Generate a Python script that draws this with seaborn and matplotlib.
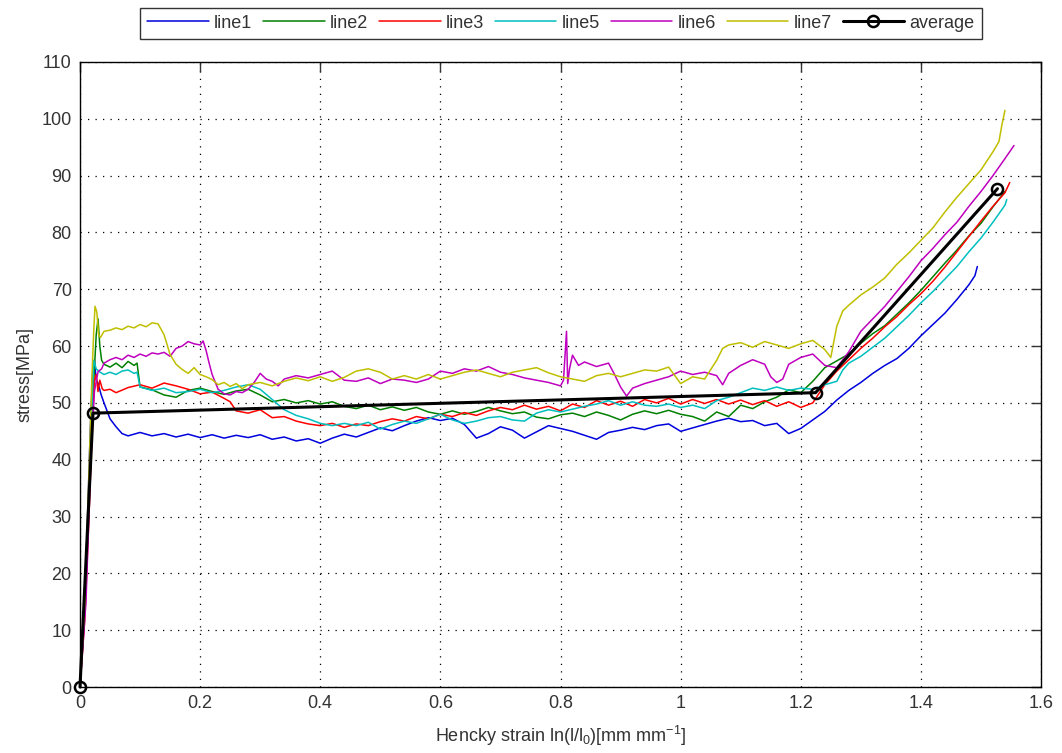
import numpy as np
import pandas as pd
import matplotlib
matplotlib.use("Agg")
import matplotlib.pyplot as plt
import seaborn as sns

# ---------------- data ----------------
line1_x = [0, 0.006, 0.012, 0.017, 0.021, 0.024, 0.027, 0.03, 0.035, 0.04, 0.05, 0.06, 0.07, 0.08,
           0.10, 0.12, 0.14, 0.16, 0.18, 0.20, 0.22, 0.24, 0.26, 0.28, 0.30, 0.32, 0.34, 0.36, 0.38, 0.40,
           0.42, 0.44, 0.46, 0.48, 0.50, 0.52, 0.54, 0.56, 0.58, 0.60, 0.62, 0.64, 0.66, 0.68, 0.70,
           0.72, 0.74, 0.76, 0.78, 0.80, 0.82, 0.84, 0.86, 0.88, 0.90, 0.92, 0.94, 0.96, 0.98, 1.00,
           1.02, 1.04, 1.06, 1.08, 1.10, 1.12, 1.14, 1.16, 1.18, 1.20, 1.22, 1.24, 1.26, 1.28, 1.30,
           1.32, 1.34, 1.36, 1.38, 1.40, 1.42, 1.44, 1.46, 1.48, 1.49, 1.494]
line1_y = [0, 10, 28, 45, 55, 57.5, 54, 53.5, 51.5, 50.0, 47.2, 45.8, 44.6, 44.2,
           44.8, 44.2, 44.6, 44.0, 44.5, 43.9, 44.4, 43.8, 44.3, 43.9, 44.4, 43.6, 44.0, 43.3, 43.7, 42.9,
           43.8, 44.5, 44.0, 44.8, 45.6, 45.1, 46.0, 46.8, 47.4, 46.9, 47.3, 46.2, 43.8, 44.6, 45.8,
           45.2, 43.8, 44.9, 46.0, 45.5, 45.0, 44.3, 43.6, 44.8, 45.2, 45.7, 45.3, 46.0, 46.3, 45.0,
           45.6, 46.2, 46.8, 47.3, 46.7, 46.9, 46.0, 46.4, 44.6, 45.5, 47.0, 48.5, 50.5, 52.2, 53.6,
           55.2, 56.6, 57.8, 59.6, 61.8, 63.8, 65.8, 68.2, 70.8, 72.4, 74.0]

line2_x = [0, 0.008, 0.015, 0.022, 0.027, 0.030, 0.033, 0.036, 0.04, 0.05, 0.06, 0.07, 0.08, 0.09, 0.095,
           0.10, 0.12, 0.14, 0.16, 0.18, 0.20, 0.22, 0.24, 0.26, 0.28, 0.30, 0.32, 0.34, 0.36, 0.38, 0.40,
           0.42, 0.44, 0.46, 0.48, 0.50, 0.52, 0.54, 0.56, 0.58, 0.60, 0.62, 0.64, 0.66, 0.68, 0.70,
           0.72, 0.74, 0.76, 0.78, 0.80, 0.82, 0.84, 0.86, 0.88, 0.90, 0.92, 0.94, 0.96, 0.98, 1.00,
           1.02, 1.04, 1.06, 1.08, 1.10, 1.12, 1.14, 1.16, 1.18, 1.20, 1.22, 1.24, 1.26, 1.28, 1.30,
           1.32, 1.34, 1.36, 1.38, 1.40, 1.42, 1.44, 1.46, 1.48, 1.50, 1.52, 1.54]
line2_y = [0, 15, 35, 52, 62, 64.8, 60, 57.5, 56.8, 56.3, 57.0, 56.2, 57.3, 56.6, 57.0,
           52.8, 52.3, 51.4, 51.0, 52.2, 52.6, 52.0, 51.5, 52.1, 52.4, 51.4, 50.2, 50.6, 50.0, 50.4, 49.8,
           50.2, 49.4, 49.0, 49.6, 48.8, 49.3, 48.7, 49.2, 48.4, 48.0, 48.6, 48.0, 48.5, 49.2, 48.6,
           48.1, 48.4, 47.5, 47.2, 47.9, 48.2, 47.6, 48.4, 47.8, 47.0, 48.0, 48.6, 48.1, 48.7, 48.0,
           47.6, 46.8, 48.4, 47.6, 49.6, 49.0, 50.2, 51.0, 52.3, 51.8, 53.8, 56.2, 57.4, 58.6, 60.5,
           62.2, 63.6, 65.6, 67.6, 69.8, 72.2, 74.6, 76.9, 79.4, 81.6, 84.5, 87.2]

line3_x = [0, 0.008, 0.015, 0.02, 0.024, 0.027, 0.030, 0.033, 0.037, 0.04, 0.05, 0.06, 0.08,
           0.10, 0.12, 0.14, 0.16, 0.18, 0.20, 0.22, 0.24, 0.25, 0.26, 0.28, 0.30, 0.32, 0.34, 0.36, 0.38, 0.40,
           0.42, 0.44, 0.46, 0.48, 0.50, 0.52, 0.54, 0.56, 0.58, 0.60, 0.62, 0.64, 0.66, 0.68, 0.70,
           0.72, 0.74, 0.76, 0.78, 0.80, 0.82, 0.84, 0.86, 0.88, 0.90, 0.92, 0.94, 0.96, 0.98, 1.00,
           1.02, 1.04, 1.06, 1.08, 1.10, 1.12, 1.14, 1.16, 1.18, 1.20, 1.22, 1.24, 1.26, 1.28, 1.30,
           1.32, 1.34, 1.36, 1.38, 1.40, 1.42, 1.44, 1.46, 1.48, 1.50, 1.52, 1.54, 1.548]
line3_y = [0, 12, 30, 45, 54, 55, 52, 54, 52.5, 52.2, 52.4, 51.8, 52.7,
           53.2, 52.6, 53.5, 53.0, 52.4, 51.6, 51.9, 50.8, 50.2, 48.6, 48.2, 48.8, 47.4, 47.6, 46.8, 46.3, 46.0,
           46.4, 45.7, 46.3, 46.0, 46.7, 47.2, 46.8, 47.6, 47.2, 48.0, 47.6, 48.3, 47.8, 48.6, 49.2,
           48.8, 49.6, 48.9, 49.4, 48.6, 49.8, 49.2, 50.4, 49.6, 50.3, 49.4, 50.6, 50.0, 50.8, 49.8,
           50.6, 49.9, 50.6, 49.8, 50.5, 49.7, 50.4, 49.4, 50.2, 49.2, 50.0, 53.2, 55.6, 57.6, 59.6,
           61.4, 63.4, 65.2, 67.3, 69.2, 71.4, 73.9, 76.6, 79.3, 82.0, 84.6, 87.0, 88.8]

line5_x = [0, 0.008, 0.015, 0.02, 0.023, 0.027, 0.032, 0.04, 0.05, 0.06, 0.07, 0.08, 0.09, 0.095,
           0.10, 0.12, 0.14, 0.16, 0.18, 0.20, 0.22, 0.24, 0.26, 0.28, 0.30, 0.32, 0.34, 0.36, 0.38, 0.40,
           0.42, 0.44, 0.46, 0.48, 0.50, 0.52, 0.54, 0.56, 0.58, 0.60, 0.62, 0.64, 0.66, 0.68, 0.70,
           0.72, 0.74, 0.76, 0.78, 0.80, 0.82, 0.84, 0.86, 0.88, 0.90, 0.92, 0.94, 0.96, 0.98, 1.00,
           1.02, 1.04, 1.06, 1.08, 1.10, 1.12, 1.14, 1.16, 1.18, 1.20, 1.22, 1.24, 1.26, 1.27, 1.28, 1.30,
           1.32, 1.34, 1.36, 1.38, 1.40, 1.42, 1.44, 1.46, 1.48, 1.50, 1.52, 1.54, 1.543]
line5_y = [0, 14, 35, 50, 57.5, 56, 55.5, 55.0, 55.4, 55.0, 55.6, 55.8, 55.2, 55.4,
           52.8, 52.2, 52.6, 51.8, 52.0, 52.4, 51.8, 52.2, 52.8, 53.2, 52.4, 50.6, 48.8, 47.8, 47.2, 46.4,
           46.0, 46.4, 46.0, 46.6, 45.4, 46.2, 46.8, 46.4, 47.2, 48.0, 47.0, 46.4, 46.8, 47.4, 47.6,
           47.0, 46.8, 48.2, 48.8, 48.4, 48.9, 49.4, 49.8, 50.4, 49.6, 50.2, 49.6, 49.4, 49.8, 49.2,
           49.6, 49.0, 50.4, 51.0, 51.8, 52.6, 52.2, 52.8, 52.2, 52.6, 52.4, 53.2, 53.8, 55.8, 57.0, 58.2,
           59.8, 61.4, 63.4, 65.4, 67.6, 69.6, 71.8, 74.0, 76.6, 79.0, 81.8, 84.8, 85.8]

line6_x = [0, 0.01, 0.018, 0.024, 0.03, 0.036, 0.04, 0.05, 0.06, 0.07, 0.08, 0.09, 0.10, 0.11, 0.12,
           0.13, 0.14, 0.15, 0.16, 0.17, 0.18, 0.19, 0.20, 0.205, 0.21, 0.215, 0.22, 0.23, 0.24, 0.25,
           0.26, 0.27, 0.28, 0.29, 0.30, 0.31, 0.32, 0.33, 0.34, 0.36, 0.38, 0.40, 0.42, 0.44, 0.46,
           0.48, 0.50, 0.52, 0.54, 0.56, 0.58, 0.60, 0.62, 0.64, 0.66, 0.68, 0.70, 0.72, 0.74, 0.76,
           0.78, 0.80, 0.805, 0.81, 0.812, 0.815, 0.82, 0.83, 0.84, 0.86, 0.88, 0.89, 0.90, 0.91, 0.92,
           0.94, 0.96, 0.98, 1.00, 1.02, 1.04, 1.06, 1.07, 1.08, 1.10, 1.12, 1.14, 1.15, 1.16, 1.17,
           1.18, 1.20, 1.22, 1.24, 1.26, 1.28, 1.30, 1.32, 1.34, 1.36, 1.38, 1.40, 1.42, 1.44, 1.46,
           1.48, 1.50, 1.52, 1.54, 1.555]
line6_y = [0, 15, 40, 52, 55.5, 56, 57, 57.6, 58.0, 57.6, 58.4, 58.0, 58.6, 58.2, 58.8,
           58.6, 58.9, 58.2, 59.6, 60.0, 60.8, 60.4, 60.2, 60.9, 59.2, 57.0, 55.0, 52.4, 51.6, 51.4,
           52.0, 51.8, 52.4, 53.6, 55.2, 54.2, 53.8, 53.0, 54.2, 54.8, 54.4, 55.0, 55.6, 54.0, 53.8,
           54.4, 53.4, 54.2, 54.0, 53.6, 54.2, 55.6, 55.2, 56.0, 55.6, 56.4, 55.4, 55.0, 54.4, 54.0,
           53.6, 53.0, 54.0, 62.6, 53.4, 56.0, 58.4, 56.6, 57.2, 56.4, 57.0, 55.0, 52.8, 51.2, 52.6,
           53.4, 54.0, 54.6, 55.6, 55.0, 55.4, 54.8, 53.2, 55.2, 56.6, 57.6, 56.8, 54.6, 53.6, 54.2,
           56.8, 58.0, 58.6, 56.6, 56.2, 59.0, 62.6, 64.8, 67.0, 69.6, 72.2, 75.0, 77.2, 79.6, 81.8,
           84.6, 87.2, 90.0, 93.0, 95.3]

line7_x = [0, 0.008, 0.015, 0.02, 0.023, 0.025, 0.028, 0.031, 0.034, 0.04, 0.05, 0.06, 0.07, 0.08,
           0.09, 0.10, 0.11, 0.12, 0.13, 0.14, 0.15, 0.16, 0.17, 0.18, 0.19, 0.20, 0.21, 0.22, 0.23,
           0.24, 0.25, 0.26, 0.27, 0.28, 0.30, 0.32, 0.34, 0.36, 0.38, 0.40, 0.42, 0.44, 0.46, 0.48,
           0.50, 0.52, 0.54, 0.56, 0.58, 0.60, 0.62, 0.64, 0.66, 0.68, 0.70, 0.72, 0.74, 0.76, 0.78,
           0.80, 0.82, 0.84, 0.86, 0.88, 0.90, 0.92, 0.94, 0.96, 0.98, 1.00, 1.02, 1.04, 1.06, 1.07,
           1.08, 1.10, 1.12, 1.14, 1.16, 1.18, 1.20, 1.22, 1.24, 1.25, 1.26, 1.27, 1.28, 1.30, 1.32,
           1.34, 1.36, 1.38, 1.40, 1.42, 1.44, 1.46, 1.48, 1.50, 1.52, 1.53, 1.535, 1.54]
line7_y = [0, 15, 38, 55, 63, 67, 66, 62, 61.5, 62.6, 62.8, 63.2, 62.9, 63.5,
           63.2, 63.8, 63.4, 64.1, 63.9, 62.0, 58.5, 56.8, 55.9, 55.2, 56.2, 55.0, 54.6, 54.1, 53.2,
           53.6, 52.9, 53.4, 52.5, 53.2, 53.6, 53.0, 53.8, 54.4, 53.9, 54.6, 53.8, 54.5, 55.6, 56.0,
           55.4, 54.2, 54.8, 54.2, 55.0, 54.2, 54.8, 55.4, 55.8, 55.2, 54.6, 55.4, 55.8, 56.2, 55.3,
           54.6, 54.2, 53.8, 54.8, 55.2, 54.6, 55.2, 55.8, 55.6, 56.3, 53.4, 54.6, 54.2, 57.5, 59.6,
           60.2, 60.6, 59.8, 60.8, 60.2, 59.6, 60.4, 61.0, 59.4, 58.0, 63.5, 66.2, 67.2, 69.0, 70.4,
           72.0, 74.4, 76.4, 78.6, 80.8, 83.6, 86.2, 88.6, 91.0, 94.2, 96.0, 99.0, 101.5]

avg_x = [0, 0.0216, 1.2246, 1.5275]
avg_y = [0, 48.2, 51.8, 87.7]

series = [
    ("line1", line1_x, line1_y, "#0000dd"),
    ("line2", line2_x, line2_y, "#008000"),
    ("line3", line3_x, line3_y, "#ff0000"),
    ("line5", line5_x, line5_y, "#00bfbf"),
    ("line6", line6_x, line6_y, "#bf00bf"),
    ("line7", line7_x, line7_y, "#bfbf00"),
]

x_ticks = [0, 0.2, 0.4, 0.6, 0.8, 1.0, 1.2, 1.4, 1.6]
x_ticklabels = ["0", "0.2", "0.4", "0.6", "0.8", "1", "1.2", "1.4", "1.6"]
y_ticks = list(range(0, 111, 10))

# ---------------- figure ----------------
sns.set_theme(style="white")
plt.rcParams["font.family"] = ["Liberation Sans Narrow", "Liberation Sans", "DejaVu Sans"]
plt.rcParams["mathtext.default"] = "regular"

fig = plt.figure(figsize=(10.62, 7.53), dpi=100)
ax = fig.add_axes([80 / 1062, 1 - 687 / 753, (1041 - 80) / 1062, (687 - 62) / 753])

for name, xs, ys, col in series:
    sns.lineplot(x=xs, y=ys, ax=ax, color=col, lw=1.1, sort=False, estimator=None, label=name)

sns.lineplot(x=avg_x, y=avg_y, ax=ax, color="black", lw=2.2, sort=False, estimator=None,
             marker="o", markersize=8, markerfacecolor="none", markeredgecolor="black",
             markeredgewidth=1.8, label="average", clip_on=False, zorder=5)

ax.set_xlim(0, 1.6)
ax.set_ylim(0, 110)
ax.set_xticks(x_ticks)
ax.set_xticklabels(x_ticklabels)
ax.set_yticks(y_ticks)
ax.tick_params(direction="in", length=7, width=1, top=True, right=True, labelsize=13,
               colors="#333333", pad=6)
for s in ax.spines.values():
    s.set_color("black")
    s.set_linewidth(1.0)
ax.grid(True, color="black", linestyle=(0, (1, 5)), linewidth=0.9)
ax.set_axisbelow(True)

ax.set_xlabel(r"Hencky strain ln(l/l$_0$)[mm mm$^{-1}$]", fontsize=13, color="#333333", labelpad=8)
ax.set_ylabel("stress[MPa]", fontsize=13, color="#333333", labelpad=6)

handles, labels = ax.get_legend_handles_labels()
ax.get_legend().remove()
leg = fig.legend(handles, labels, loc="upper center", bbox_to_anchor=(561 / 1062, 0.99), ncol=7,
                 fontsize=13, frameon=True, fancybox=False, edgecolor="black", handlelength=3.4,
                 handletextpad=0.3, columnspacing=0.6, borderpad=0.4, borderaxespad=0)
leg.get_frame().set_linewidth(1.0)
for t in leg.get_texts():
    t.set_color("#333333")

fig.savefig("out.png", dpi=100, facecolor="white")
